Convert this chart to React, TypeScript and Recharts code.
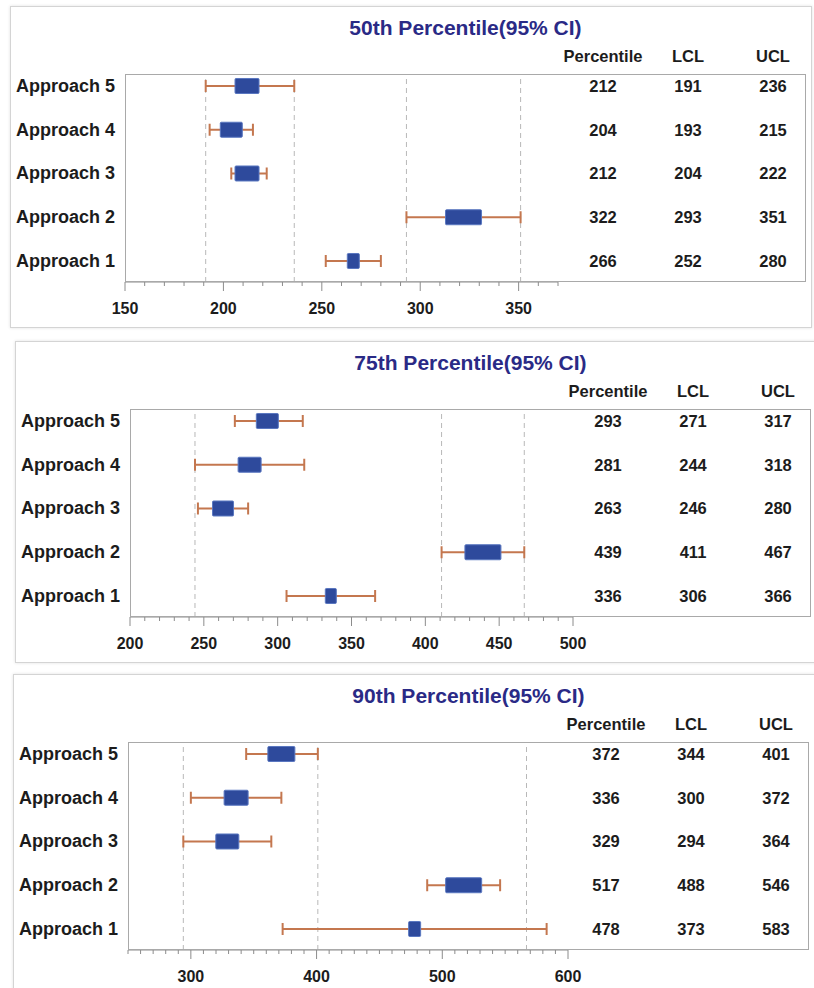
import React from "react";
import { ComposedChart, Scatter, XAxis, YAxis, ErrorBar, ReferenceLine } from "recharts";

// ---------- data ----------
const approaches = ["Approach 1", "Approach 2", "Approach 3", "Approach 4", "Approach 5"];
const rowIndex = [1, 2, 3, 4, 5];
const tableHeaders = ["Percentile", "LCL", "UCL"];

const p50Title = "50th Percentile(95% CI)";
const p50Pct = [266, 322, 212, 204, 212];
const p50Lcl = [252, 293, 204, 193, 191];
const p50Ucl = [280, 351, 222, 215, 236];
const p50Weight = [12, 36, 24, 22, 24];
const p50RefLines = [191, 236, 293, 351];
const p50Ticks = [150, 200, 250, 300, 350];
const p50Domain = [150, 370];

const p75Title = "75th Percentile(95% CI)";
const p75Pct = [336, 439, 263, 281, 293];
const p75Lcl = [306, 411, 246, 244, 271];
const p75Ucl = [366, 467, 280, 318, 317];
const p75Weight = [11, 36, 21, 23, 22];
const p75RefLines = [244, 411, 467];
const p75Ticks = [200, 250, 300, 350, 400, 450, 500];
const p75Domain = [200, 500];

const p90Title = "90th Percentile(95% CI)";
const p90Pct = [478, 517, 329, 336, 372];
const p90Lcl = [373, 488, 294, 300, 344];
const p90Ucl = [583, 546, 364, 372, 401];
const p90Weight = [12, 36, 23, 24, 27];
const p90RefLines = [294, 401, 567];
const p90Ticks = [300, 400, 500, 600];
const p90Domain = [250, 600];

// ---------- layout / style ----------
const FONT = "'Liberation Sans', Arial, Helvetica, sans-serif";
const PANEL_W = 800; // inner (padding box) width
const PANEL_H = 320;
const PLOT_LEFT = 114;
const PLOT_TOP = 67;
const X_AXIS_H = 45;
const FRAME_RIGHT = 795;
const COL_X = [592, 677, 762];
const Y_DOMAIN = [0.52, 5.274];
const TEXT_COLOR = "#1c1c1c";

function minorTicks(domain: number[], step: number) {
  const out: number[] = [];
  for (let v = domain[0]; v <= domain[1] + 1e-9; v += step) out.push(v);
  return out;
}

type PanelProps = {
  title: string;
  pct: number[];
  lcl: number[];
  ucl: number[];
  weight: number[];
  refLines: number[];
  ticks: number[];
  domain: number[];
  plotW: number;
  left: number;
  top: number;
};

const BoxShape = (props: any) => {
  const { cx, cy, payload } = props;
  if (cx == null || cy == null) return <g />;
  const w = payload.w;
  const h = 15;
  return (
    <rect
      x={cx - w / 2}
      y={cy - h / 2}
      width={w}
      height={h}
      rx={1}
      fill="#2e4a9c"
      stroke="#5a77c0"
      strokeWidth={1}
    />
  );
};

const NoShape = () => <g />;

function Panel(p: PanelProps) {
  const rows = rowIndex.map((r, i) => ({
    row: r,
    name: approaches[i],
    pct: p.pct[i],
    lcl: p.lcl[i],
    ucl: p.ucl[i],
    w: p.weight[i],
    err: [p.pct[i] - p.lcl[i], p.ucl[i] - p.pct[i]],
  }));
  const rightW = PANEL_W - PLOT_LEFT - p.plotW;
  const allTicks = minorTicks(p.domain, 10);
  const topRow = rowIndex[rowIndex.length - 1];

  const XTick = (tp: any) => {
    const { x, y, payload } = tp;
    const v = payload.value;
    const major = p.ticks.includes(v);
    return (
      <g>
        <line x1={x} x2={x} y1={y} y2={y + (major ? 9 : 4)} stroke="#8c8c8c" strokeWidth={1} />
        {major && (
          <text
            x={x}
            y={y + 32}
            textAnchor="middle"
            fontFamily={FONT}
            fontSize={16}
            fontWeight="bold"
            fill={TEXT_COLOR}
          >
            {v}
          </text>
        )}
      </g>
    );
  };

  const LeftTick = (tp: any) => {
    const { x, y, payload } = tp;
    const idx = rowIndex.indexOf(payload.value);
    if (idx < 0) return <g />;
    return (
      <text
        x={x}
        y={y + 6}
        textAnchor="end"
        fontFamily={FONT}
        fontSize={18}
        fontWeight="bold"
        fill={TEXT_COLOR}
      >
        {approaches[idx]}
      </text>
    );
  };

  const RightTick = (tp: any) => {
    const { y, payload } = tp;
    const idx = rowIndex.indexOf(payload.value);
    if (idx < 0) return <g />;
    const vals = [p.pct[idx], p.lcl[idx], p.ucl[idx]];
    return (
      <g>
        {payload.value === topRow &&
          tableHeaders.map((h, k) => (
            <text
              key={"h" + k}
              x={COL_X[k]}
              y={y - 24}
              textAnchor="middle"
              fontFamily={FONT}
              fontSize={16.5}
              fontWeight="bold"
              fill={TEXT_COLOR}
            >
              {h}
            </text>
          ))}
        {vals.map((v, k) => (
          <text
            key={k}
            x={COL_X[k]}
            y={y + 6}
            textAnchor="middle"
            fontFamily={FONT}
            fontSize={16.5}
            fontWeight="bold"
            fill={TEXT_COLOR}
          >
            {v}
          </text>
        ))}
      </g>
    );
  };

  return (
    <div
      style={{
        position: "absolute",
        left: p.left,
        top: p.top,
        width: PANEL_W,
        height: PANEL_H,
        border: "1px solid #d4d4d4",
        boxShadow: "0 0 3px rgba(0,0,0,0.12)",
        background: "#fff",
      }}
    >
      <div
        style={{
          position: "absolute",
          left: PLOT_LEFT,
          width: FRAME_RIGHT - PLOT_LEFT,
          top: 9,
          lineHeight: "24px",
          textAlign: "center",
          fontFamily: FONT,
          fontSize: 21,
          fontWeight: "bold",
          color: "#2a2a86",
        }}
      >
        {p.title}
      </div>
      <div style={{ position: "absolute", left: 0, top: 0 }}>
        <ComposedChart
          width={PANEL_W}
          height={PANEL_H}
          margin={{ top: PLOT_TOP, right: 0, bottom: 0, left: 0 }}
        >
          <XAxis
            type="number"
            dataKey="pct"
            domain={p.domain}
            allowDataOverflow
            ticks={allTicks}
            interval={0}
            tickSize={0}
            tickMargin={0}
            tickLine={false}
            axisLine={{ stroke: "#8c8c8c", strokeWidth: 1 }}
            tick={XTick}
            height={X_AXIS_H}
          />
          <YAxis
            type="number"
            dataKey="row"
            domain={Y_DOMAIN}
            allowDataOverflow
            ticks={rowIndex}
            interval={0}
            width={PLOT_LEFT}
            tickSize={0}
            tickMargin={10}
            tickLine={false}
            axisLine={false}
            tick={LeftTick}
          />
          <YAxis
            yAxisId="right"
            orientation="right"
            type="number"
            dataKey="row"
            domain={Y_DOMAIN}
            allowDataOverflow
            ticks={rowIndex}
            interval={0}
            width={rightW}
            tickSize={0}
            tickMargin={0}
            tickLine={false}
            axisLine={false}
            tick={RightTick}
          />
          {p.refLines.map((v) => (
            <ReferenceLine
              key={v}
              x={v}
              stroke="#b8b8b8"
              strokeWidth={1}
              strokeDasharray="5 4"
            />
          ))}
          <Scatter data={rows} shape={NoShape} isAnimationActive={false}>
            <ErrorBar
              dataKey="err"
              direction="x"
              width={6}
              stroke="#c4774f"
              strokeWidth={2}
              isAnimationActive={false}
            />
          </Scatter>
          <Scatter data={rows} shape={BoxShape} isAnimationActive={false} />
        </ComposedChart>
      </div>
      <div
        style={{
          position: "absolute",
          left: PLOT_LEFT,
          top: PLOT_TOP,
          width: FRAME_RIGHT - PLOT_LEFT,
          height: PANEL_H - X_AXIS_H - PLOT_TOP,
          border: "1px solid #a9a9a9",
          boxSizing: "border-box",
          pointerEvents: "none",
        }}
      />
    </div>
  );
}

export default function App() {
  return (
    <div
      style={{
        position: "absolute",
        left: 0,
        top: 0,
        width: 814,
        height: 988,
        overflow: "hidden",
        background: "#fff",
      }}
    >
      <Panel
        title={p50Title}
        pct={p50Pct}
        lcl={p50Lcl}
        ucl={p50Ucl}
        weight={p50Weight}
        refLines={p50RefLines}
        ticks={p50Ticks}
        domain={p50Domain}
        plotW={433}
        left={10}
        top={6}
      />
      <Panel
        title={p75Title}
        pct={p75Pct}
        lcl={p75Lcl}
        ucl={p75Ucl}
        weight={p75Weight}
        refLines={p75RefLines}
        ticks={p75Ticks}
        domain={p75Domain}
        plotW={443}
        left={15}
        top={341}
      />
      <Panel
        title={p90Title}
        pct={p90Pct}
        lcl={p90Lcl}
        ucl={p90Ucl}
        weight={p90Weight}
        refLines={p90RefLines}
        ticks={p90Ticks}
        domain={p90Domain}
        plotW={440}
        left={13}
        top={674}
      />
    </div>
  );
}
